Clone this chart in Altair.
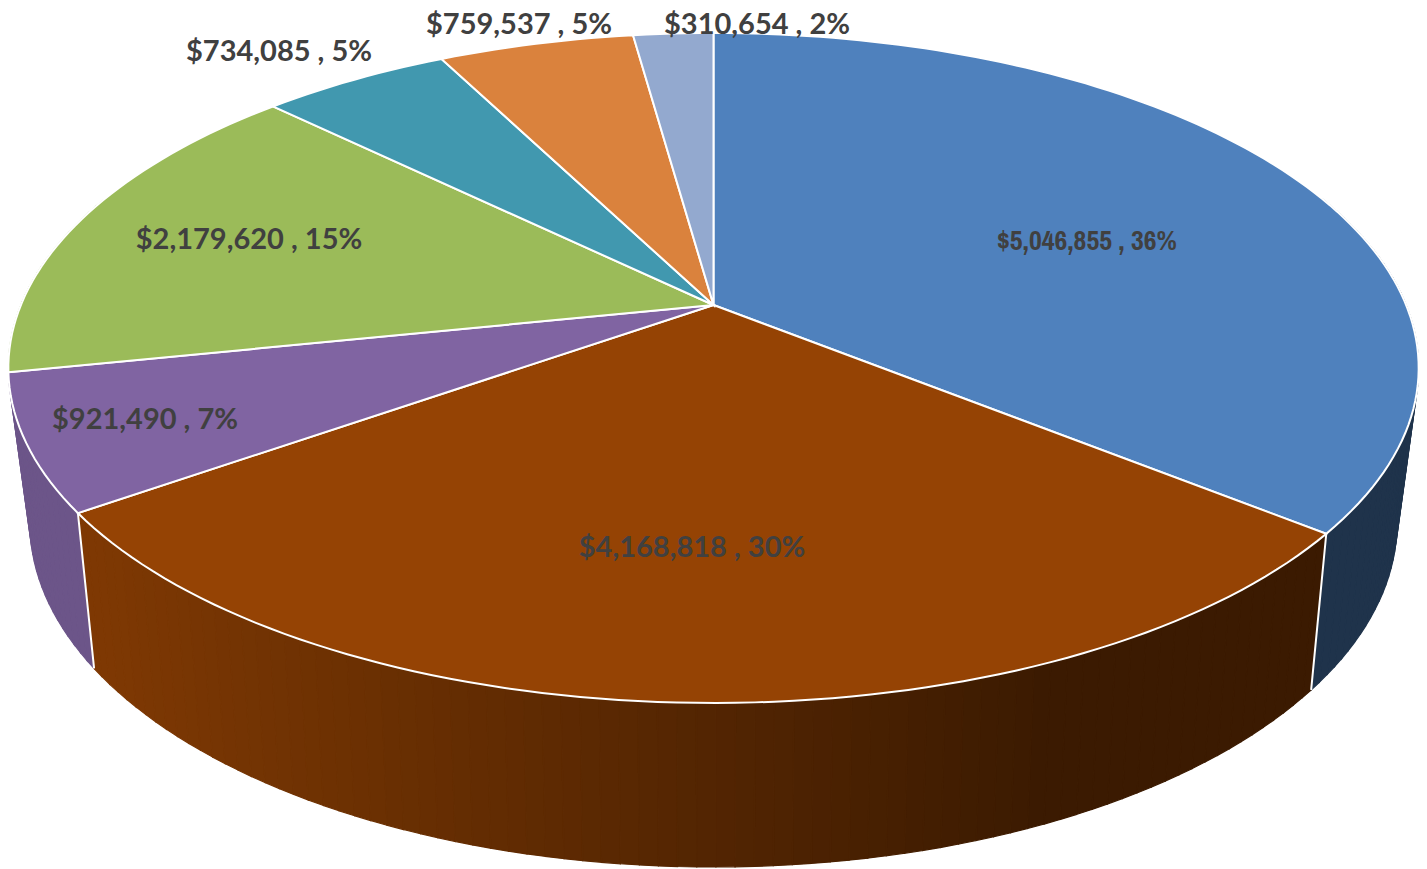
import math
import altair as alt

VALUES = [5046855, 4168818, 921490, 2179620, 734085, 759537, 310654]
COLORS = ["#4F81BD", "#954304", "#8064A2", "#9BBB59", "#4198AF", "#DA823D", "#93A9CF"]
FONT_CHOICE = ["Archivo Narrow", "Lato", "Lato", "Lato", "Lato", "Lato", "Lato"]
FONT_SIZES = [28, 29, 29, 29, 29, 29, 29]
LABEL_X = [1087, 692, 145, 249, 279, 519, 757]
LABEL_Y = [242, 548, 420, 240, 52, 25, 25]

W, H = 1411, 861
TOTAL = sum(VALUES)
LABELS = [f"${v:,} , {round(100 * v / TOTAL)}%" for v in VALUES]


def sx(x):
    return (x - 3) * W / (1425 - 3)


def sy(y):
    return y - 8


def top_pt(t):
    u, v = math.sin(t), math.cos(t)
    w = 1 + 0.188 * v
    return (714 + 698 * u / w, (305 - 265.8 * v) / w)


def bot_pt(t):
    u, v = math.sin(t), math.cos(t)
    w = 1 + 0.2 * v
    return (714 + 675 * u / w, (454 - 239.6 * v) / w)


def shade(hex_color, x):
    f = max(0.40, min(0.85, 0.85 - 0.45 * (x - 90) / 960))
    c = [int(hex_color[i:i + 2], 16) for i in (1, 3, 5)]
    return "#%02x%02x%02x" % tuple(int(a * f) for a in c)


def feature(points, fill, stroke, sw):
    ring = [[sx(x), sy(y)] for x, y in points]
    ring.append(ring[0])
    return {
        "type": "Feature",
        "geometry": {"type": "Polygon", "coordinates": [ring]},
        "properties": {"fill": fill, "stroke": stroke, "sw": sw},
    }


cum = [0.0]
for val in VALUES:
    cum.append(cum[-1] + val / TOTAL * 2 * math.pi)

strips, tops, seams = [], [], []
for i, col in enumerate(COLORS):
    a0, a1 = cum[i], cum[i + 1]
    n = max(2, int((a1 - a0) / math.radians(1.3)))
    ts = [a0 + (a1 - a0) * j / n for j in range(n + 1)]
    for t0, t1 in zip(ts, ts[1:]):
        if math.cos((t0 + t1) / 2) < 0.35:
            p = [top_pt(t0), top_pt(t1), bot_pt(t1), bot_pt(t0)]
            c = shade(col, (p[0][0] + p[1][0]) / 2)
            strips.append((math.cos((t0 + t1) / 2), feature(p, c, c, 1.2)))
    tops.append(feature([(714, 305)] + [top_pt(t) for t in ts], col, "#ffffff", 2))

for a in cum[1:3]:
    seams.append(feature([top_pt(a), bot_pt(a)], "#ffffff", "#ffffff", 2))

strips.sort(key=lambda s: -s[0])
features = [s[1] for s in strips] + seams + tops

shapes = (
    alt.Chart(alt.Data(values=features))
    .mark_geoshape()
    .encode(
        fill=alt.Fill("properties.fill:N", scale=None),
        stroke=alt.Stroke("properties.stroke:N", scale=None),
        strokeWidth=alt.StrokeWidth("properties.sw:Q", scale=None),
    )
    .project(type="identity", scale=1, translate=[0, 0])
)

rows = [
    {"t": t, "lon": x - 8, "lat": sy(y), "font": f, "size": s}
    for t, x, y, f, s in zip(LABELS, LABEL_X, LABEL_Y, FONT_CHOICE, FONT_SIZES)
]


def text_layer(font):
    return (
        alt.Chart(alt.Data(values=[r for r in rows if r["font"] == font]))
        .mark_text(font=font, fontWeight="bold", color="#404040", align="center", baseline="middle")
        .encode(
            longitude="lon:Q",
            latitude="lat:Q",
            text="t:N",
            size=alt.Size("size:Q", scale=None),
        )
        .project(type="identity", scale=1, translate=[0, 0])
    )


chart = (
    alt.layer(shapes, text_layer("Lato"), text_layer("Archivo Narrow"))
    .properties(width=W, height=H, padding=0, autosize="none", background="white")
    .configure_view(stroke=None)
)

chart.save("out.html", embed_options={"renderer": "svg", "actions": False})
